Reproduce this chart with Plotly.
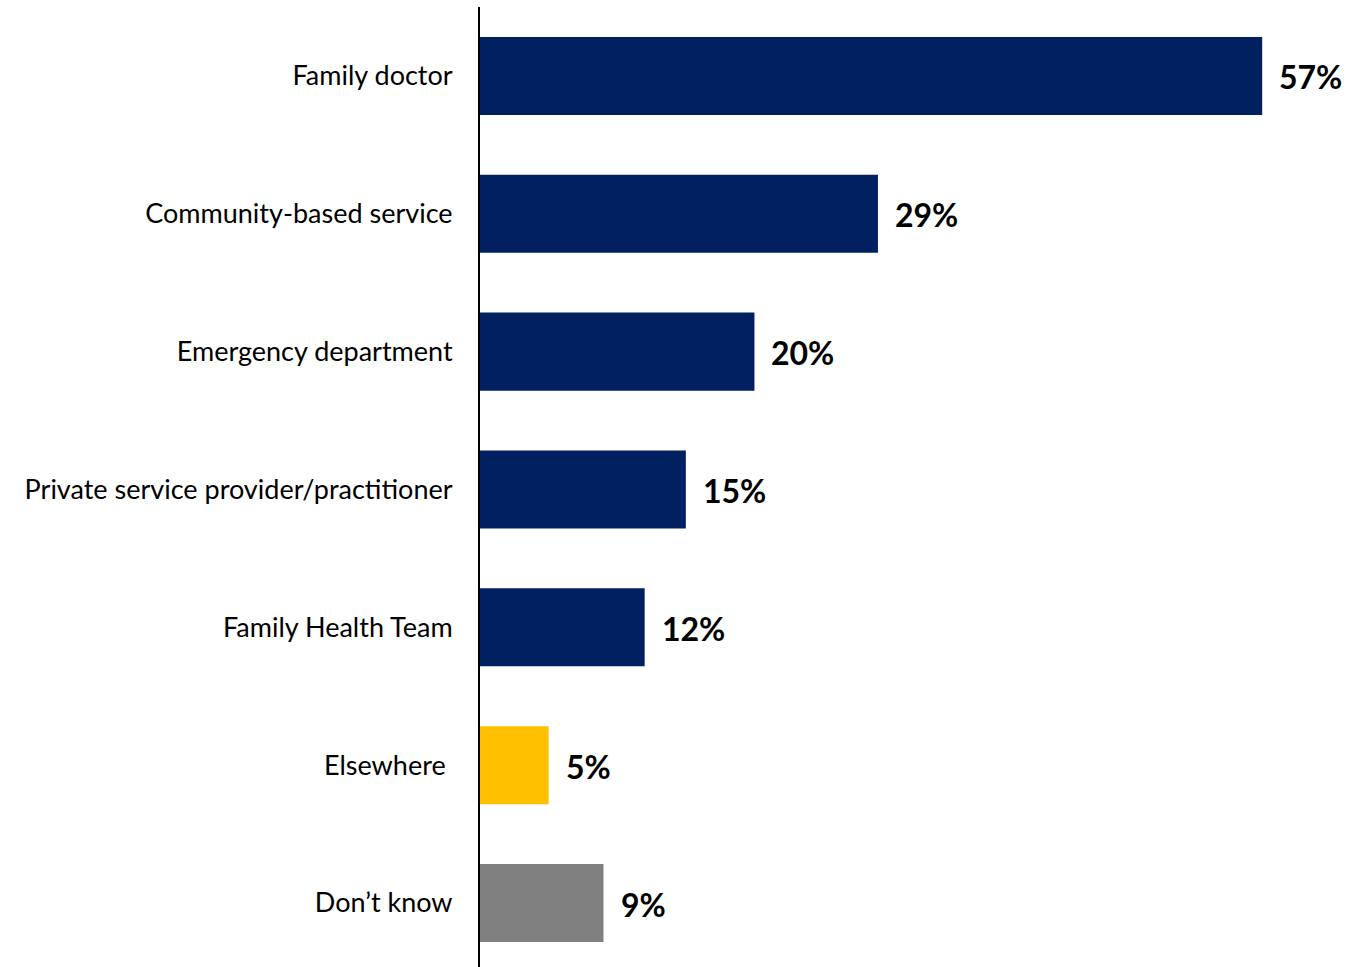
import plotly.graph_objects as go

categories = [
    "Family doctor",
    "Community-based service",
    "Emergency department",
    "Private service provider/practitioner",
    "Family Health Team",
    "Elsewhere\u00a0",
    "Don\u2019t know",
]
values = [57, 29, 20, 15, 12, 5, 9]
colors = ["#002060", "#002060", "#002060", "#002060", "#002060", "#FFC000", "#808080"]
value_labels = [f"{v}%" for v in values]

fig = go.Figure(
    go.Bar(
        x=values,
        y=categories,
        orientation="h",
        marker=dict(color=colors, line=dict(width=0)),
        width=0.566,
        hoverinfo="skip",
    )
)

# Percentage labels just past the end of each bar
for cat, val, lab in zip(categories, values, value_labels):
    fig.add_annotation(
        x=val,
        y=cat,
        text=lab,
        showarrow=False,
        xanchor="left",
        yanchor="middle",
        xshift=15,
        yshift=-1,
        font=dict(family="Lato", size=32, color="#000000", weight="bold"),
    )

fig.update_layout(
    width=1350,
    height=967,
    margin=dict(l=480, r=0, t=7, b=0),
    plot_bgcolor="white",
    paper_bgcolor="white",
    showlegend=False,
    font=dict(family="Lato", color="#000000"),
)

fig.update_xaxes(
    range=[0, 63.4],
    showgrid=False,
    zeroline=False,
    showticklabels=False,
    showline=False,
    ticks="",
)

fig.update_yaxes(
    categoryorder="array",
    categoryarray=categories,
    range=[6.464, -0.5],
    showgrid=False,
    zeroline=False,
    showline=True,
    linecolor="#000000",
    linewidth=2,
    ticks="",
    ticklabelstandoff=20,
    tickfont=dict(family="Lato", size=27, color="#000000"),
)

fig.write_html("out.html")
